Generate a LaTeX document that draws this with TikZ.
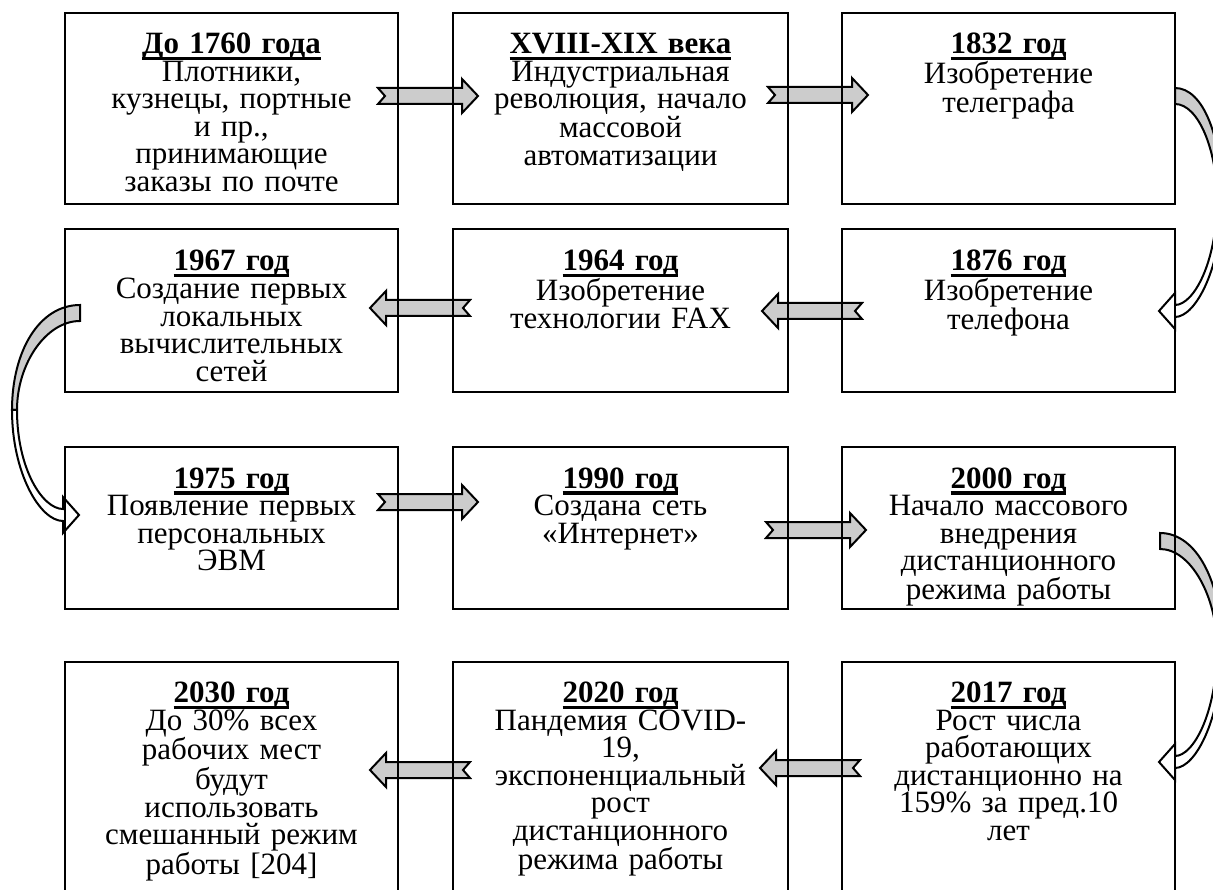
\documentclass[tikz,border=0pt]{standalone}
\usepackage{fontspec}
\setmainfont{Liberation Serif}
\usetikzlibrary{calc,backgrounds}
\lineskiplimit=-50pt
\newcommand\hd[1]{\setbox0=\hbox{\bfseries #1}\rlap{\rule[-6.5pt]{\wd0}{3.2pt}}\box0}
\newcommand\sarr[2]{%
  \begin{scope}[shift={(#1)},xscale=#2]
    \draw[barr] (0,-8)--(84,-8)--(84,-17)--(100,0)--(84,17)--(84,8)--(0,8)--(7,0)--cycle;
  \end{scope}}
\newcommand\carr[5]{%
  \begin{scope}[shift={(#1)},xscale=#2]
    \pgfmathsetmacro\cE{#3}\pgfmathsetmacro\cH{#4}\pgfmathsetmacro\cB{#5}%
    \pgfmathsetmacro\cEi{\cE-5}\pgfmathsetmacro\cY{0.5*\cH}%
    \pgfmathsetmacro\cOa{0.6*\cE}\pgfmathsetmacro\cOb{0.22*\cH}%
    \pgfmathsetmacro\cIa{0.5*\cE}\pgfmathsetmacro\cIb{0.28*\cH}%
    \pgfmathsetmacro\cWa{0.8*\cH}\pgfmathsetmacro\cWb{\cB+0.45*(\cE-\cB)}%
    \pgfmathsetmacro\cWc{0.78*\cH}\pgfmathsetmacro\cWd{\cB+0.4*(\cE-\cB)}%
    \pgfmathsetmacro\cHp{\cH+6}\pgfmathsetmacro\cHm{\cH-6}%
    \pgfmathsetmacro\cHP{\cH+18}\pgfmathsetmacro\cHM{\cH-18}\pgfmathsetmacro\cT{\cB-16}%
    \draw[carrg] (0,0) .. controls (\cOa,0) and (\cE,\cOb) .. (\cE,\cY) -- (\cEi,\cY)
      .. controls (\cEi,\cIb) and (\cIa,16) .. (0,16) -- cycle;
    \draw[carrw] (\cE,\cY) .. controls (\cE,\cWa) and (\cWb,\cHp) .. (\cB,\cHp)
      -- (\cB,\cHP) -- (\cT,\cH) -- (\cB,\cHM) -- (\cB,\cHm)
      .. controls (\cWd,\cHm) and (\cEi,\cWc) .. (\cEi,\cY) -- cycle;
  \end{scope}}
\begin{document}
\begin{tikzpicture}[x=1pt,y=-1pt,
  box/.style={draw, line width=2.8pt, anchor=north west, inner sep=0pt, outer sep=0pt},
  txt/.style={anchor=base, text width=330pt, align=center, inner sep=0pt,
    font=\fontsize{31}{27.6}\selectfont},
  barr/.style={draw, line width=2pt, fill=black!20, line join=miter},
  carrg/.style={draw, line width=2pt, fill=black!20, line join=miter},
  carrw/.style={draw, line width=2pt, fill=white, line join=miter}]
\useasboundingbox (0,0) rectangle (1213,890);
\clip (0,0) rectangle (1213,890);
% boxes
\node[box, minimum width=333, minimum height=191] (b1) at (65,13) {};
\node[box, minimum width=335, minimum height=191] (b2) at (453,13) {};
\node[box, minimum width=333, minimum height=191] (b3) at (842,13) {};
\node[box, minimum width=333, minimum height=163] (b4) at (842,229) {};
\node[box, minimum width=335, minimum height=163] (b5) at (453,229) {};
\node[box, minimum width=333, minimum height=163] (b6) at (65,229) {};
\node[box, minimum width=333, minimum height=162] (b7) at (65,447) {};
\node[box, minimum width=335, minimum height=162] (b8) at (453,447) {};
\node[box, minimum width=333, minimum height=162] (b9) at (842,447) {};
\node[box, minimum width=333, minimum height=260] (b10) at (842,662) {};
\node[box, minimum width=335, minimum height=260] (b11) at (453,662) {};
\node[box, minimum width=333, minimum height=260] (b12) at (65,662) {};
% texts
\node[txt] (t1) at ($(b1.north)+(0,40.5)$) {\hd{До 1760 года}\\Плотники,\\кузнецы, портные\\и пр.,\\принимающие\\заказы по почте};
\node[txt] (t2) at ($(b2.north)+(0,40.5)$) {\hd{XVIII-XIX века}\\Индустриальная\\революция, начало\\массовой\\автоматизации};
\node[txt] (t3) at ($(b3.north)+(0,40.5)$) {\hd{1832 год}\\Изобретение\\телеграфа};
\node[txt] (t4) at ($(b4.north)+(0,42)$) {\hd{1876 год}\\Изобретение\\телефона};
\node[txt] (t5) at ($(b5.north)+(0,42)$) {\hd{1964 год}\\Изобретение\\технологии FAX};
\node[txt] (t6) at ($(b6.north)+(0,42)$) {\hd{1967 год}\\Создание первых\\локальных\\вычислительных\\сетей};
\node[txt] (t7) at ($(b7.north)+(0,41)$) {\hd{1975 год}\\Появление первых\\персональных\\ЭВМ};
\node[txt] (t8) at ($(b8.north)+(0,41)$) {\hd{1990 год}\\Создана сеть\\«Интернет»};
\node[txt] (t9) at ($(b9.north)+(0,41)$) {\hd{2000 год}\\Начало массового\\внедрения\\дистанционного\\режима работы};
\node[txt] (t10) at ($(b10.north)+(0,40.5)$) {\hd{2017 год}\\Рост числа\\работающих\\дистанционно на\\159\% за пред.10\\лет};
\node[txt] (t11) at ($(b11.north)+(0,40.5)$) {\hd{2020 год}\\Пандемия COVID-\\19,\\экспоненциальный\\рост\\дистанционного\\режима работы};
\node[txt] (t12) at ($(b12.north)+(0,40.5)$) {\hd{2030 год}\\До 30\% всех\\рабочих мест\\будут\\использовать\\смешанный режим\\работы [204]};
% connector anchor points
\coordinate (s12) at ($(b1.north east)+(-20,83)$);
\coordinate (s23) at ($(b2.north east)+(-20,82)$);
\coordinate (s45) at ($(b4.north west)+(20,82)$);
\coordinate (s56) at ($(b5.north west)+(17,79)$);
\coordinate (s78) at ($(b7.north east)+(-20,55)$);
\coordinate (s89) at ($(b8.north east)+(-22,83)$);
\coordinate (s1011) at ($(b10.north west)+(18,106)$);
\coordinate (s1112) at ($(b11.north west)+(17,108)$);
\coordinate (c34) at ($(b3.north east)+(0,75)$);
\coordinate (c67) at ($(b6.north west)+(15,76)$);
\coordinate (c910) at ($(b9.north east)+(-15,86)$);
\begin{scope}[on background layer]
  \clip (0,0) rectangle (1213,890);
  \sarr{s12}{1}
  \sarr{s23}{1}
  \sarr{s45}{-1}
  \sarr{s56}{-1}
  \sarr{s78}{1}
  \sarr{s89}{1}
  \sarr{s1011}{-1}
  \sarr{s1112}{-1}
  \carr{c34}{1}{47}{223}{0}
  \carr{c67}{-1}{68}{210}{17}
  \carr{c910}{1}{62}{229}{15}
\end{scope}
\end{tikzpicture}
\end{document}
